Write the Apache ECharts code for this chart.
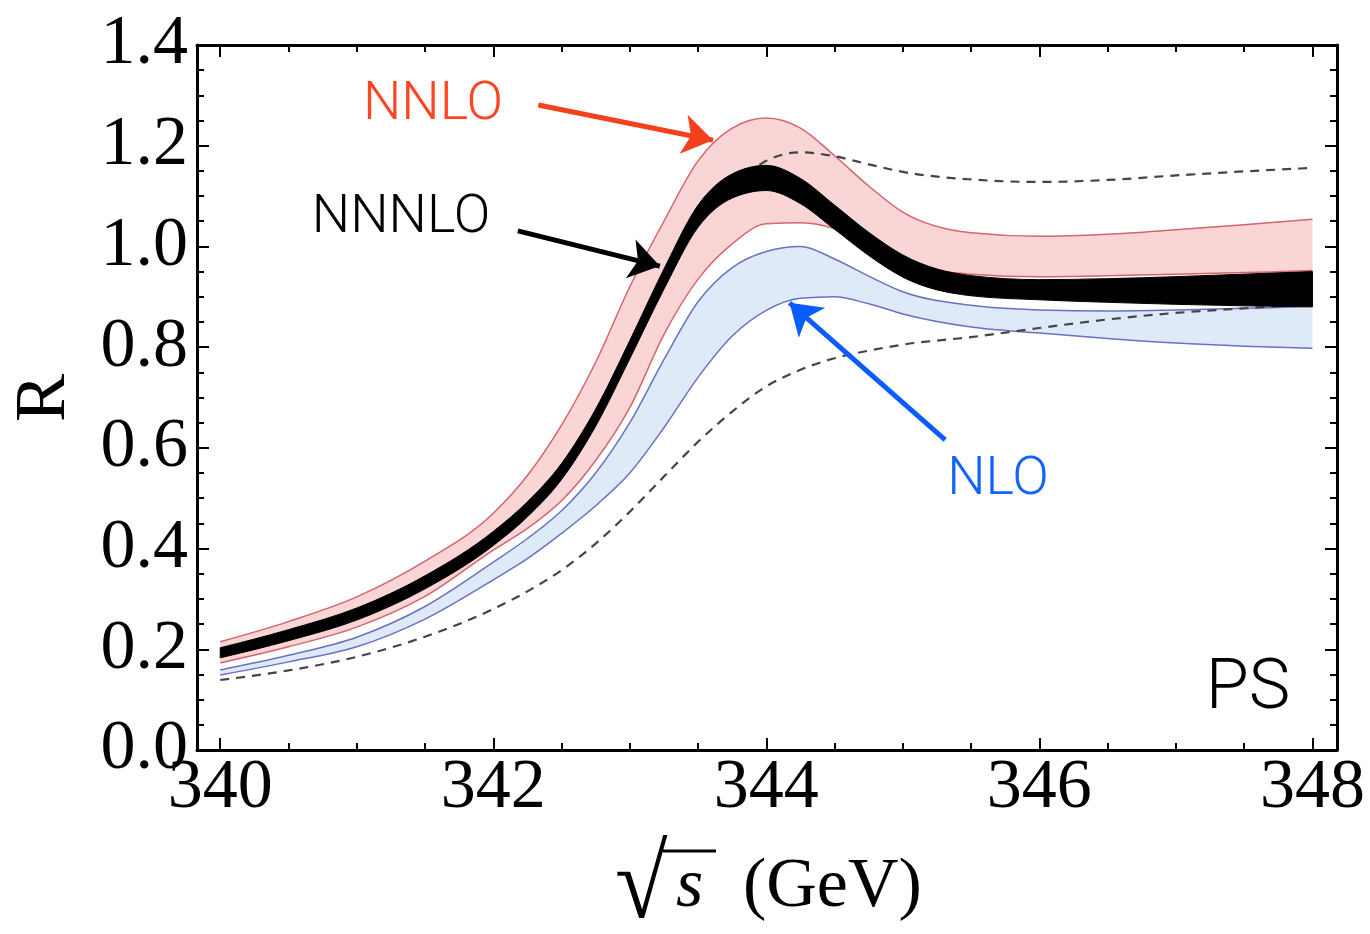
<!DOCTYPE html>
<html>
<head>
<meta charset="utf-8">
<title>R near threshold, PS scheme</title>
<script src="https://cdn.jsdelivr.net/npm/echarts@6/dist/echarts.min.js"></script>
<style>
  html, body { margin: 0; padding: 0; background: #fff; }
  #chart { width: 1370px; height: 934px; }
</style>
</head>
<body>
<div id="chart"></div>
<script>
var energies = [340, 340.5, 341, 341.5, 342, 342.25, 342.5, 342.75, 343, 343.25, 343.5, 343.75,
                344, 344.25, 344.5, 344.75, 345, 345.5, 346, 346.5, 347, 347.5, 348];

// NNLO band (red)
var nnloUpper = [0.215, 0.255, 0.304, 0.375, 0.47, 0.545, 0.645, 0.77, 0.92, 1.05, 1.17, 1.235,
                 1.255, 1.235, 1.18, 1.12, 1.068, 1.027, 1.02, 1.024, 1.033, 1.043, 1.054];
var nnloLower = [0.173, 0.205, 0.244, 0.305, 0.397, 0.44, 0.495, 0.575, 0.68, 0.825, 0.935, 1.005,
                 1.045, 1.047, 1.035, 1.0, 0.965, 0.945, 0.94, 0.942, 0.945, 0.948, 0.952];

// NLO band (blue)
var nloUpper = [0.159, 0.188, 0.224, 0.285, 0.373, 0.42, 0.475, 0.55, 0.65, 0.775, 0.89, 0.958,
                0.99, 1.0, 0.975, 0.941, 0.91, 0.883, 0.874, 0.872, 0.874, 0.877, 0.881];
var nloLower = [0.149, 0.175, 0.205, 0.26, 0.338, 0.38, 0.43, 0.485, 0.55, 0.64, 0.74, 0.822,
                0.873, 0.897, 0.9, 0.886, 0.866, 0.84, 0.828, 0.817, 0.808, 0.802, 0.798];

// NNNLO band (black)
var n3loUpper = [0.203, 0.239, 0.282, 0.346, 0.434, 0.493, 0.569, 0.677, 0.813, 0.955, 1.082, 1.144,
                 1.161, 1.135, 1.082, 1.028, 0.983, 0.942, 0.934, 0.936, 0.94, 0.945, 0.95];
var n3loLower = [0.183, 0.217, 0.258, 0.32, 0.406, 0.463, 0.537, 0.643, 0.777, 0.915, 1.038, 1.096,
                 1.111, 1.085, 1.034, 0.982, 0.939, 0.902, 0.894, 0.889, 0.885, 0.882, 0.88];

// dashed curves
var dashLower = [0.139, 0.158, 0.185, 0.225, 0.28, 0.315, 0.357, 0.41, 0.473, 0.543, 0.612, 0.672,
                 0.722, 0.755, 0.778, 0.793, 0.805, 0.82, 0.838, 0.855, 0.868, 0.877, 0.885];
var dashUpperEnergies = [343.95, 344, 344.25, 344.5, 344.75, 345, 345.5, 346, 346.5, 347, 347.5, 348];
var dashUpper = [1.162, 1.17, 1.187, 1.179, 1.163, 1.148, 1.133, 1.128, 1.132, 1.141, 1.149, 1.156];

// ticks
var xMajorTicks = [340, 342, 344, 346, 348];
var xMinorTicks = [340.5, 341, 341.5, 342.5, 343, 343.5, 344.5, 345, 345.5, 346.5, 347, 347.5];

var serif = '"Liberation Serif", "Times New Roman", serif';
var sans = 'Roboto, "Noto Sans", sans-serif';

var red = '#d4646e', pink = '#fad5d5';
var blue = '#6a70c4', lightBlue = '#dfeaf9';

// monotone cubic (like d3.curveMonotoneX) through pixel points -> bezier segments
function segments(p) {
  var n = p.length, s = [], m = [], out = [], i;
  for (i = 0; i < n - 1; i++) s.push((p[i + 1][1] - p[i][1]) / (p[i + 1][0] - p[i][0]));
  for (i = 1; i < n - 1; i++) {
    var h0 = p[i][0] - p[i - 1][0], h1 = p[i + 1][0] - p[i][0];
    var q = (s[i - 1] * h1 + s[i] * h0) / (h0 + h1);
    m[i] = (Math.sign(s[i - 1]) + Math.sign(s[i])) *
      Math.min(Math.abs(s[i - 1]), Math.abs(s[i]), 0.5 * Math.abs(q)) || 0;
  }
  m[0] = (3 * s[0] - m[1]) / 2;
  m[n - 1] = (3 * s[n - 2] - m[n - 2]) / 2;
  for (i = 0; i < n - 1; i++) {
    var h = (p[i + 1][0] - p[i][0]) / 3;
    out.push([[p[i][0] + h, p[i][1] + h * m[i]], [p[i + 1][0] - h, p[i + 1][1] - h * m[i + 1]], p[i + 1]]);
  }
  return out;
}

function pt(a) { return a[0].toFixed(2) + ' ' + a[1].toFixed(2); }

function curvePath(p) {
  return 'M' + pt(p[0]) + segments(p).map(function (g) {
    return 'C' + pt(g[0]) + ' ' + pt(g[1]) + ' ' + pt(g[2]);
  }).join('');
}

function bandPath(top, bot) {
  var d = curvePath(top);
  var segs = segments(bot);
  d += 'L' + pt(bot[bot.length - 1]);
  for (var i = segs.length - 1; i >= 0; i--) {
    d += 'C' + pt(segs[i][1]) + ' ' + pt(segs[i][0]) + ' ' + pt(bot[i]);
  }
  return d + 'Z';
}

function toPixels(api, xs, ys) {
  return xs.map(function (x, i) { return api.coord([x, ys[i]]); });
}

// filled band between two read-off edges, optionally with stroked edges
function bandSeries(name, xs, hi, lo, fill, edge, z) {
  return {
    type: 'custom', name: name, coordinateSystem: 'cartesian2d', z: z, silent: true,
    data: [[xs[0], lo[0]]],
    renderItem: function (params, api) {
      var top = toPixels(api, xs, hi), bot = toPixels(api, xs, lo);
      var kids = [{ type: 'path', shape: { pathData: bandPath(top, bot) },
                    style: { fill: fill, stroke: edge ? null : fill, lineWidth: 1 } }];
      if (edge) {
        kids.push({ type: 'path', shape: { pathData: curvePath(top) }, style: { fill: 'none', stroke: edge, lineWidth: 1.5 } });
        kids.push({ type: 'path', shape: { pathData: curvePath(bot) }, style: { fill: 'none', stroke: edge, lineWidth: 1.5 } });
      }
      return { type: 'group', children: kids };
    }
  };
}

function dashedSeries(name, xs, ys) {
  return {
    type: 'custom', name: name, coordinateSystem: 'cartesian2d', z: 4, silent: true,
    data: [[xs[0], ys[0]]],
    renderItem: function (params, api) {
      return { type: 'path', shape: { pathData: curvePath(toPixels(api, xs, ys)) },
               style: { fill: 'none', stroke: '#444', lineWidth: 2.2, lineDash: [9, 7] } };
    }
  };
}

function xAxisBox(position, ticks, len, withLine, withLabels) {
  return {
    type: 'value',
    position: position,
    min: 339.83,
    max: 348.18,
    axisLine: { show: withLine, onZero: false, lineStyle: { color: '#000', width: 3 } },
    axisTick: { show: true, inside: true, customValues: ticks, length: len, lineStyle: { color: '#000', width: 2 } },
    axisLabel: {
      show: withLabels,
      customValues: ticks,
      margin: 4,
      color: '#000',
      fontFamily: serif,
      fontSize: 70
    },
    splitLine: { show: false }
  };
}

function yAxisBox(position, withLabels) {
  return {
    type: 'value',
    position: position,
    min: 0,
    max: 1.4,
    interval: 0.2,
    axisLine: { show: true, onZero: false, lineStyle: { color: '#000', width: 3 } },
    axisTick: { show: true, inside: true, length: 12, lineStyle: { color: '#000', width: 2 } },
    minorTick: { show: true, splitNumber: 4, length: 7, lineStyle: { color: '#000', width: 2 } },
    axisLabel: {
      show: withLabels,
      showMinLabel: true,
      showMaxLabel: true,
      margin: 9,
      color: '#000',
      fontFamily: serif,
      fontSize: 70,
      formatter: function (v) { return v.toFixed(1); }
    },
    splitLine: { show: false },
    minorSplitLine: { show: false }
  };
}

function arrow(from, to, color) {
  return [
    { coord: from, lineStyle: { color: color, width: 5, type: 'solid' } },
    { coord: to }
  ];
}

var chart = echarts.init(document.getElementById('chart'));
chart.setOption({
  animation: false,
  backgroundColor: '#fff',
  grid: { left: 197, right: 33, top: 45, bottom: 184, outerBoundsMode: 'none', containLabel: false },
  xAxis: [
    xAxisBox('bottom', xMajorTicks, 12, true, true),
    xAxisBox('bottom', xMinorTicks, 7, false, false),
    xAxisBox('top', xMajorTicks, 12, true, false),
    xAxisBox('top', xMinorTicks, 7, false, false)
  ],
  yAxis: [yAxisBox('left', true), yAxisBox('right', false)],
  series: [
    bandSeries('NLO', energies, nloUpper, nloLower, lightBlue, blue, 2),
    bandSeries('NNLO', energies, nnloUpper, nnloLower, pink, red, 3),
    dashedSeries('dashed lower', energies, dashLower),
    dashedSeries('dashed upper', dashUpperEnergies, dashUpper),
    bandSeries('NNNLO', energies, n3loUpper, n3loLower, '#000', null, 6),
    // pointer arrows
    {
      type: 'line', name: 'arrows', data: [], z: 8,
      markLine: {
        silent: true,
        symbol: ['none', 'arrow'],
        symbolSize: 30,
        label: { show: false },
        data: [
          arrow([342.33, 1.281], [343.61, 1.211], '#f5401e'),
          arrow([342.18, 1.031], [343.22, 0.961], '#000'),
          arrow([345.31, 0.616], [344.17, 0.888], '#0a5cff')
        ]
      }
    }
  ],
  graphic: [
    { type: 'text', x: 433, y: 105, style: { text: 'NNLO', fill: '#ff4521', font: '300 54px ' + sans, align: 'center', verticalAlign: 'middle' } },
    { type: 'text', x: 401, y: 218, style: { text: 'NNNLO', fill: '#000', font: '300 54px ' + sans, align: 'center', verticalAlign: 'middle' } },
    { type: 'text', x: 998, y: 480, style: { text: 'NLO', fill: '#1463ff', font: '300 54px ' + sans, align: 'center', verticalAlign: 'middle' } },
    { type: 'text', x: 1248, y: 690, style: { text: 'PS', fill: '#000', font: '300 70px ' + sans, align: 'center', verticalAlign: 'middle' } },
    // y axis title
    { type: 'text', x: 45, y: 398, rotation: Math.PI / 2, style: { text: 'R', fill: '#000', font: '72px ' + serif, align: 'center', verticalAlign: 'middle' } },
    // x axis title: sqrt(s) (GeV)
    { type: 'text', x: 615, y: 890, scaleX: 0.92, style: { text: '\u221A', fill: '#000', font: '104px ' + serif, align: 'left', verticalAlign: 'middle' } },
    { type: 'line', shape: { x1: 663, y1: 851, x2: 716, y2: 851 }, style: { stroke: '#000', lineWidth: 3 } },
    { type: 'text', x: 676, y: 888, style: { text: 's', fill: '#000', font: 'italic 70px ' + serif, align: 'left', verticalAlign: 'middle' } },
    { type: 'text', x: 743, y: 888, style: { text: '(GeV)', fill: '#000', font: '70px ' + serif, align: 'left', verticalAlign: 'middle' } }
  ]
});
</script>
</body>
</html>
